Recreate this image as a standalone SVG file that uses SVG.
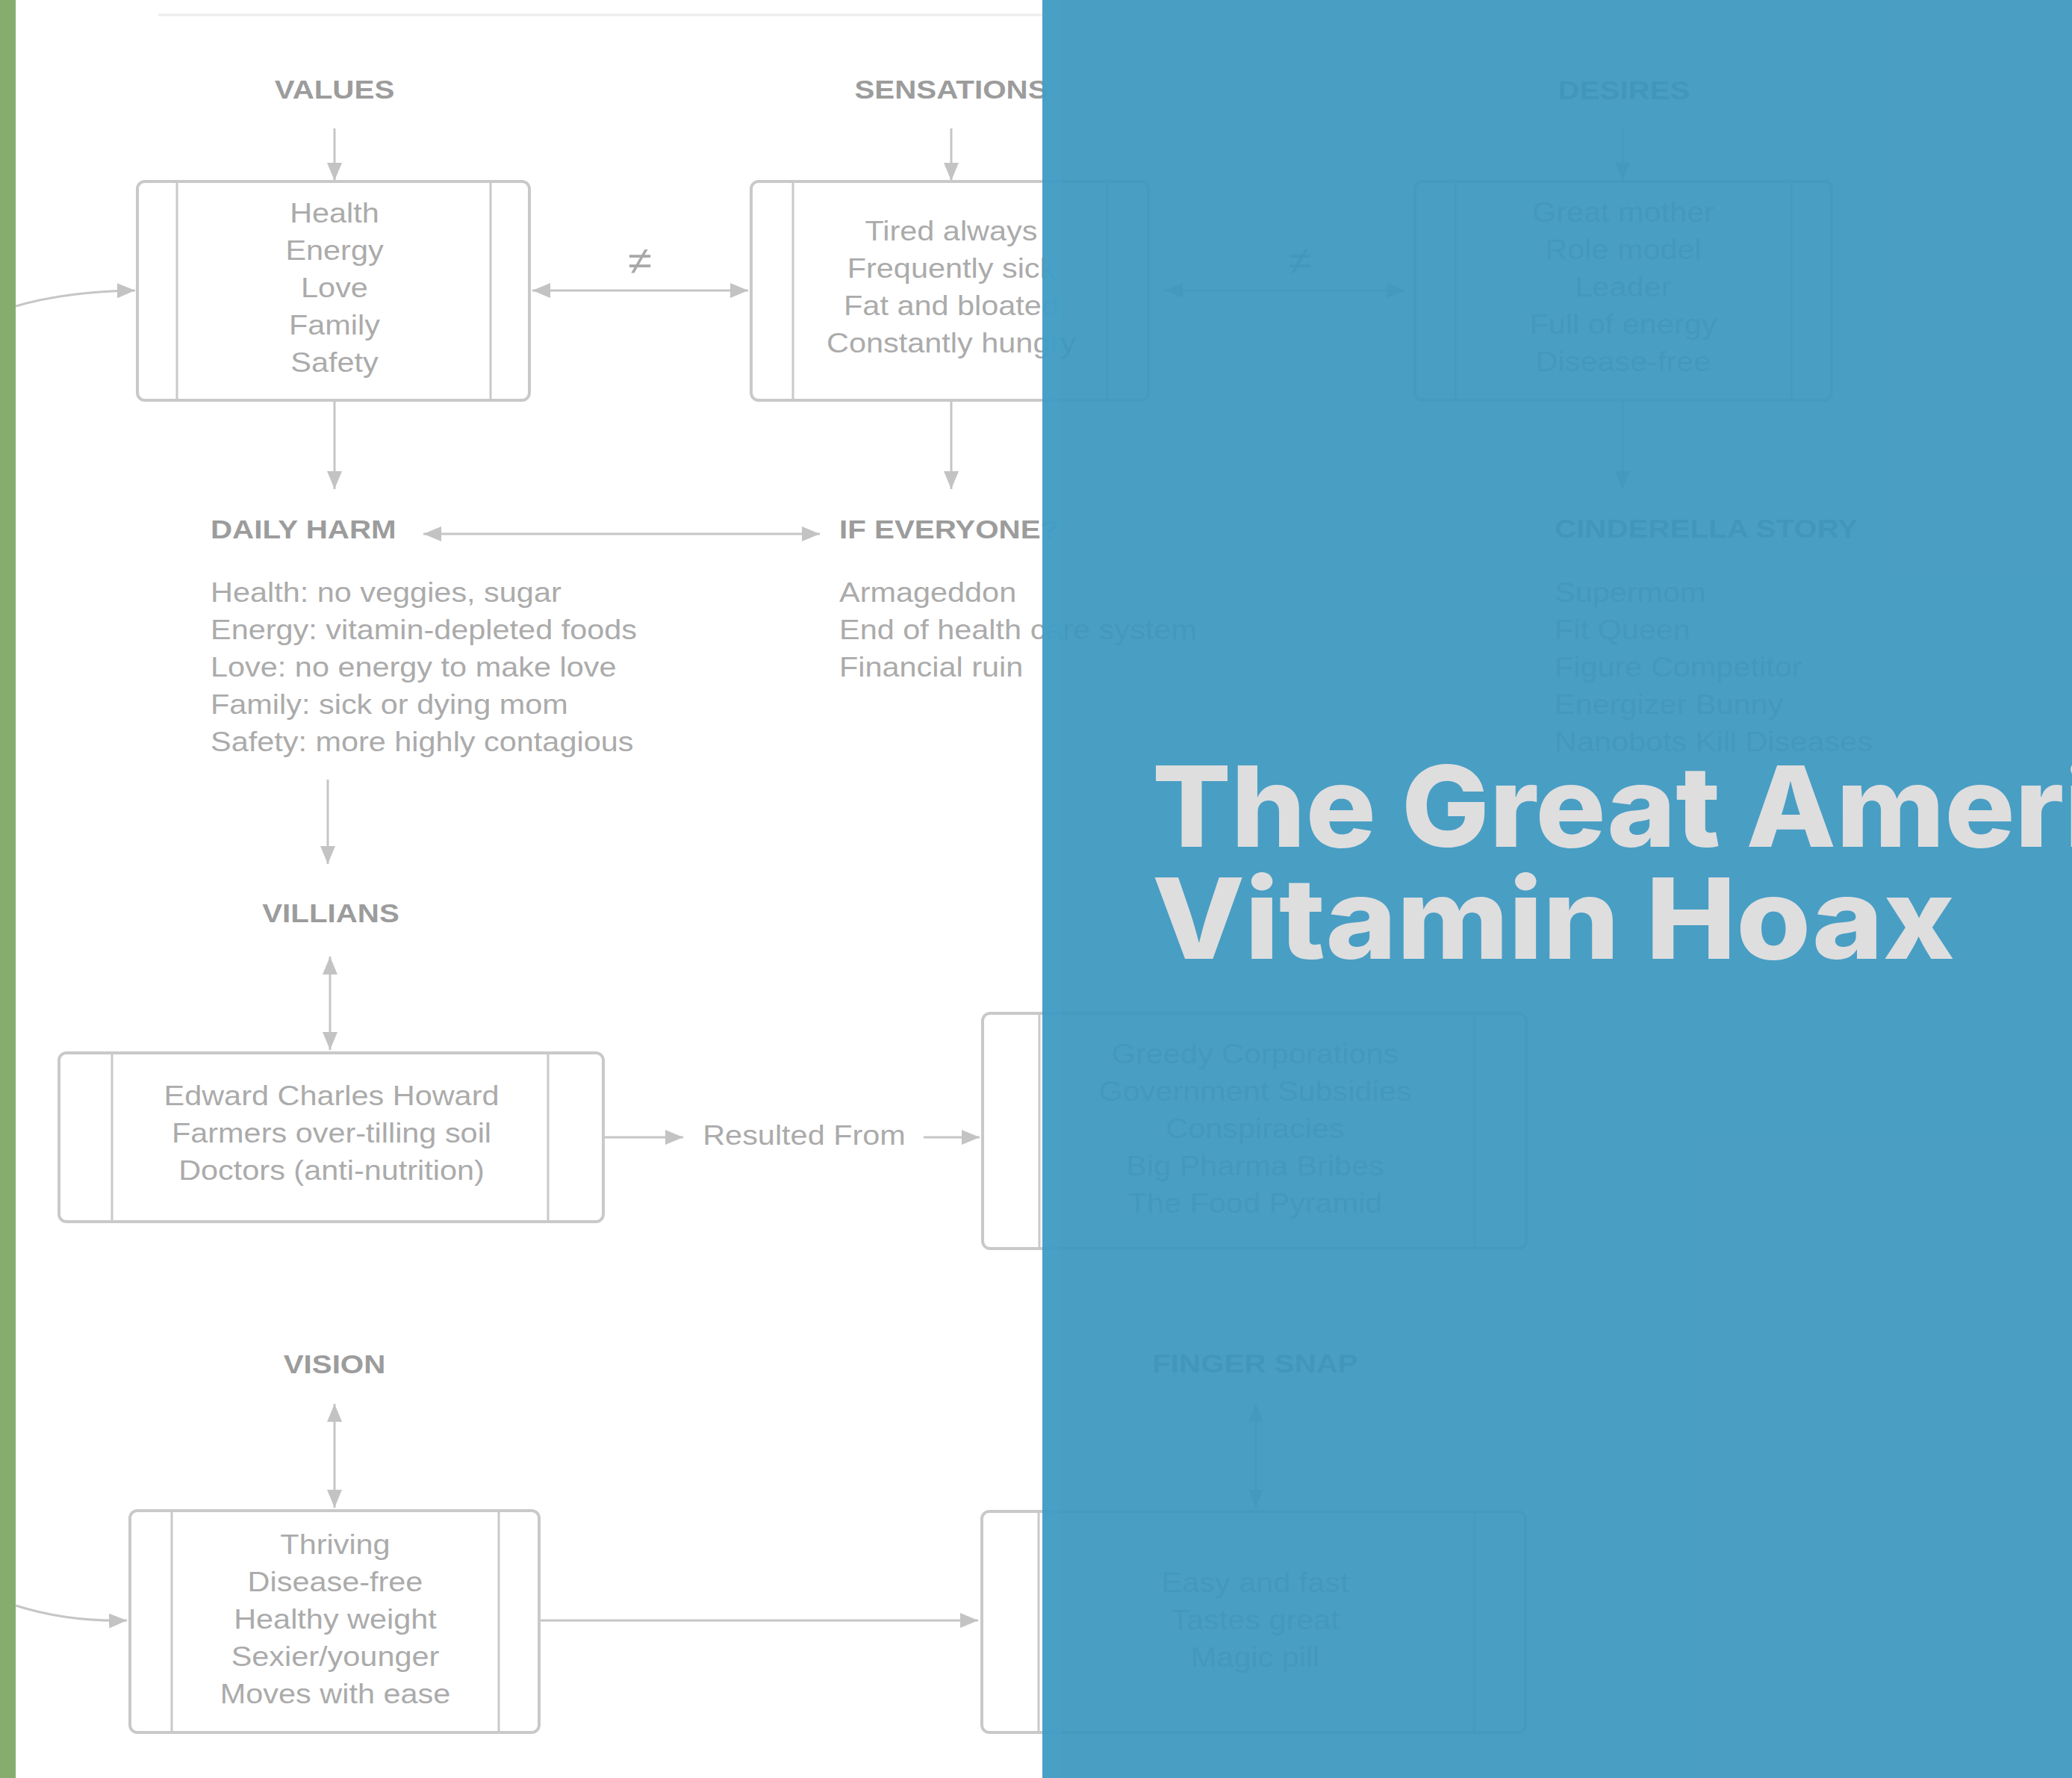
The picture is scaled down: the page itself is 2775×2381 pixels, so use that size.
<svg xmlns="http://www.w3.org/2000/svg" width="2775" height="2381" viewBox="0 0 2775 2381">
<style>
.lbl{font-family:"Liberation Sans",Arial,sans-serif;font-weight:bold;font-size:36px;fill:#9c9c9c}
.txt{font-family:"Liberation Sans",Arial,sans-serif;font-size:37px;fill:#ababab}
.mid{text-anchor:middle}
.box{fill:#ffffff;stroke:#c9c9c9;stroke-width:4}
.div{stroke:#c9c9c9;stroke-width:3}
.conn path{fill:none;stroke:#c6c6c6;stroke-width:3}
.title{font-family:Inter,"Open Sans",sans-serif;font-weight:800;font-size:150px;fill:#dedede}
</style>
<defs>
<marker id="ah" viewBox="0 0 24 20" refX="24" refY="10" markerWidth="24" markerHeight="20" markerUnits="userSpaceOnUse" orient="auto-start-reverse">
<path d="M0,0 L24,10 L0,20 z" fill="#c3c3c3"/>
</marker>
</defs>
<rect x="0" y="0" width="2775" height="2381" fill="#ffffff"/>
<rect x="0" y="0" width="21" height="2381" fill="#87ad6e"/>
<path d="M212,20 L1396,20" stroke="#ececec" stroke-width="3"/>

<g class="conn">
<path d="M448,172 L448,242" marker-end="url(#ah)"/>
<path d="M1274,172 L1274,242" marker-end="url(#ah)"/>
<path d="M2173,172 L2173,242" marker-end="url(#ah)"/>
<path d="M713,389 L1002,389" marker-start="url(#ah)" marker-end="url(#ah)"/>
<path d="M1560,389 L1882,389" marker-start="url(#ah)" marker-end="url(#ah)"/>
<path d="M448,538 L448,655" marker-end="url(#ah)"/>
<path d="M1274,538 L1274,655" marker-end="url(#ah)"/>
<path d="M2173,538 L2173,655" marker-end="url(#ah)"/>
<path d="M567,715 L1098,715" marker-start="url(#ah)" marker-end="url(#ah)"/>
<path d="M439,1044 L439,1157" marker-end="url(#ah)"/>
<path d="M442,1281 L442,1406" marker-start="url(#ah)" marker-end="url(#ah)"/>
<path d="M809,1523 L915,1523" marker-end="url(#ah)"/>
<path d="M1237,1523 L1312,1523" marker-end="url(#ah)"/>
<path d="M448,1880 L448,2019" marker-start="url(#ah)" marker-end="url(#ah)"/>
<path d="M722,2170 L1310,2170" marker-end="url(#ah)"/>
<path d="M1682,1880 L1682,2019" marker-start="url(#ah)" marker-end="url(#ah)"/>
<path d="M21,410 Q90,390 181,389" marker-end="url(#ah)"/>
<path d="M21,2150 Q90,2172 170,2170" marker-end="url(#ah)"/>
</g>

<g id="values-label"><text class="lbl mid" transform="translate(448,132) scale(1.12,1)">VALUES</text></g>
<g id="sensations-label"><text class="lbl mid" transform="translate(1274,132) scale(1.12,1)">SENSATIONS</text></g>
<g id="desires-label"><text class="lbl mid" transform="translate(2175,133) scale(1.12,1)">DESIRES</text></g>

<g id="values-box">
<rect class="box" x="184" y="243" width="525" height="293" rx="10"/>
<path class="div" d="M237,243 V536 M657,243 V536"/>
<text class="txt mid" transform="translate(448,298) scale(1.12,1)"><tspan x="0" y="0">Health</tspan><tspan x="0" dy="50">Energy</tspan><tspan x="0" dy="50">Love</tspan><tspan x="0" dy="50">Family</tspan><tspan x="0" dy="50">Safety</tspan></text>
</g>
<g id="neq-1"><text class="txt mid" style="font-size:52px;fill:#a8a8a8" transform="translate(857,367) scale(1.12,1)">≠</text></g>

<g id="sensations-box">
<rect class="box" x="1006" y="243" width="532" height="293" rx="10"/>
<path class="div" d="M1062,243 V536 M1483,243 V536"/>
<text class="txt mid" transform="translate(1274,322) scale(1.12,1)"><tspan x="0" y="0">Tired always</tspan><tspan x="0" dy="50">Frequently sick</tspan><tspan x="0" dy="50">Fat and bloated</tspan><tspan x="0" dy="50">Constantly hungry</tspan></text>
</g>
<g id="neq-2"><text class="txt mid" style="font-size:52px;fill:#a8a8a8" transform="translate(1741,367) scale(1.12,1)">≠</text></g>

<g id="desires-box">
<rect class="box" x="1895" y="243" width="558" height="293" rx="10"/>
<path class="div" d="M1949,243 V536 M2399,243 V536"/>
<text class="txt mid" transform="translate(2174,297) scale(1.12,1)"><tspan x="0" y="0">Great mother</tspan><tspan x="0" dy="50">Role model</tspan><tspan x="0" dy="50">Leader</tspan><tspan x="0" dy="50">Full of energy</tspan><tspan x="0" dy="50">Disease-free</tspan></text>
</g>

<g id="daily-harm">
<text class="lbl" transform="translate(282,721) scale(1.12,1)">DAILY HARM</text>
<text class="txt" transform="translate(282,806) scale(1.12,1)"><tspan x="0" y="0">Health: no veggies, sugar</tspan><tspan x="0" dy="50">Energy: vitamin-depleted foods</tspan><tspan x="0" dy="50">Love: no energy to make love</tspan><tspan x="0" dy="50">Family: sick or dying mom</tspan><tspan x="0" dy="50">Safety: more highly contagious</tspan></text>
</g>

<g id="if-everyone">
<text class="lbl" transform="translate(1124,721) scale(1.12,1)">IF EVERYONE?</text>
<text class="txt" transform="translate(1124,806) scale(1.12,1)"><tspan x="0" y="0">Armageddon</tspan><tspan x="0" dy="50">End of health care system</tspan><tspan x="0" dy="50">Financial ruin</tspan></text>
</g>

<g id="cinderella">
<text class="lbl" transform="translate(2082,720) scale(1.12,1)">CINDERELLA STORY</text>
<text class="txt" transform="translate(2082,806) scale(1.12,1)"><tspan x="0" y="0">Supermom</tspan><tspan x="0" dy="50">Fit Queen</tspan><tspan x="0" dy="50">Figure Competitor</tspan><tspan x="0" dy="50">Energizer Bunny</tspan><tspan x="0" dy="50">Nanobots Kill Diseases</tspan></text>
</g>

<g id="villians-label"><text class="lbl mid" transform="translate(443,1235) scale(1.12,1)">VILLIANS</text></g>
<g id="villians-box">
<rect class="box" x="79" y="1410" width="729" height="226" rx="10"/>
<path class="div" d="M150,1410 V1636 M734,1410 V1636"/>
<text class="txt mid" transform="translate(444,1480) scale(1.12,1)"><tspan x="0" y="0">Edward Charles Howard</tspan><tspan x="0" dy="50">Farmers over-tilling soil</tspan><tspan x="0" dy="50">Doctors (anti-nutrition)</tspan></text>
</g>
<g id="resulted-from"><text class="txt mid" transform="translate(1077,1533) scale(1.12,1)">Resulted From</text></g>
<g id="causes-box">
<rect class="box" x="1316" y="1357" width="728" height="315" rx="10"/>
<path class="div" d="M1392,1357 V1672 M1975,1357 V1672"/>
<text class="txt mid" transform="translate(1681,1424) scale(1.12,1)"><tspan x="0" y="0">Greedy Corporations</tspan><tspan x="0" dy="50">Government Subsidies</tspan><tspan x="0" dy="50">Conspiracies</tspan><tspan x="0" dy="50">Big Pharma Bribes</tspan><tspan x="0" dy="50">The Food Pyramid</tspan></text>
</g>

<g id="vision-label"><text class="lbl mid" transform="translate(448,1839) scale(1.12,1)">VISION</text></g>
<g id="vision-box">
<rect class="box" x="174" y="2023" width="548" height="297" rx="10"/>
<path class="div" d="M230,2023 V2320 M668,2023 V2320"/>
<text class="txt mid" transform="translate(449,2081) scale(1.12,1)"><tspan x="0" y="0">Thriving</tspan><tspan x="0" dy="50">Disease-free</tspan><tspan x="0" dy="50">Healthy weight</tspan><tspan x="0" dy="50">Sexier/younger</tspan><tspan x="0" dy="50">Moves with ease</tspan></text>
</g>
<g id="finger-snap-label"><text class="lbl mid" transform="translate(1681,1838) scale(1.12,1)">FINGER SNAP</text></g>
<g id="finger-snap-box">
<rect class="box" x="1315" y="2024" width="728" height="296" rx="10"/>
<path class="div" d="M1391,2024 V2320 M1975,2024 V2320"/>
<text class="txt mid" transform="translate(1681,2132) scale(1.12,1)"><tspan x="0" y="0">Easy and fast</tspan><tspan x="0" dy="50">Tastes great</tspan><tspan x="0" dy="50">Magic pill</tspan></text>
</g>

<rect x="1396" y="0" width="1379" height="2381" fill="rgb(58,150,191)" fill-opacity="0.92"/>
<rect x="1396" y="0" width="25" height="2381" fill="#48a1ca" fill-opacity="0.6"/>
<g id="title">
<text class="title" transform="translate(1543,1134) scale(1.045,1)">The Great American</text>
<text class="title" x="1543" y="1284" textLength="1075" lengthAdjust="spacingAndGlyphs">Vitamin Hoax</text>
</g>
</svg>
